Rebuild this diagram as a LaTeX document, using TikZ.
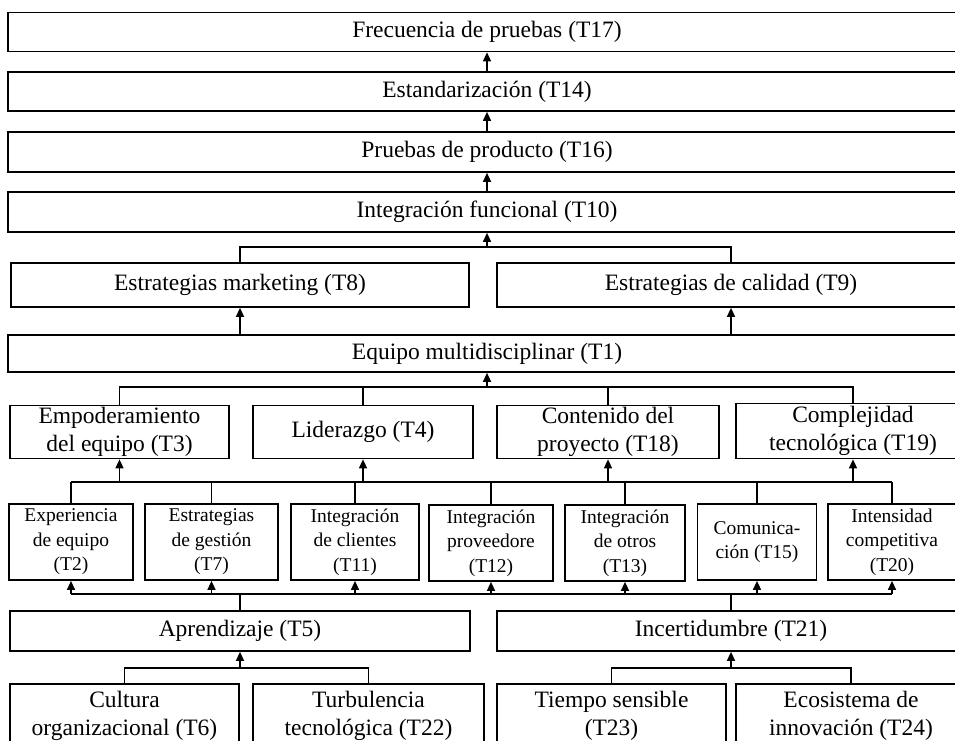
\documentclass[tikz,border=0pt]{standalone}
\usepackage{fontspec}
\setmainfont{Liberation Serif}
\usetikzlibrary{arrows.meta}
\newcommand{\letragrande}{\fontsize{23.5}{28.5}\selectfont}
\newcommand{\letrachica}{\fontsize{19.5}{24.5}\selectfont}

\begin{document}
\begin{tikzpicture}[x=1pt,y={(0pt,-1pt)},>={Triangle[length=9pt,width=8pt]},
    caja/.style={draw, line width=1.7pt, fill=white, inner sep=0pt, align=center, font=\letragrande},
    cajita/.style={caja, font=\letrachica},
    linea/.style={line width=1.4pt},
    barra/.style={line width=2.6pt}]
                \useasboundingbox (0,0) rectangle (955,740);

                % Cadena superior
                \node[caja, minimum width=958pt, minimum height=39pt] (t17) at (487,32) {Frecuencia de pruebas (T17)};
                \node[caja, minimum width=958pt, minimum height=39pt] (t14) at (487,91.5) {Estandarización (T14)};
                \node[caja, minimum width=958pt, minimum height=40pt] (t16) at (487,152) {Pruebas de producto (T16)};
                \node[caja, minimum width=958pt, minimum height=40pt] (t10) at (487,212) {Integración funcional (T10)};

                % Estrategias
                \node[caja, minimum width=458pt, minimum height=44pt] (t8) at (240,285) {Estrategias marketing (T8)};
                \node[caja, minimum width=468pt, minimum height=44pt] (t9) at (731,285) {Estrategias de calidad (T9)};
                \node[caja, minimum width=958pt, minimum height=37pt] (t1) at (487,353.5) {Equipo multidisciplinar (T1)};

                % Tercera fila
                \node[caja, minimum width=219pt, minimum height=53pt] (t3) at (119.5,432) {Empoderamiento\\del equipo (T3)};
                \node[caja, minimum width=220pt, minimum height=53pt] (t4) at (363,432) {Liderazgo (T4)};
                \node[caja, minimum width=222pt, minimum height=53pt] (t18) at (608,432) {Contenido del\\proyecto (T18)};
                \node[caja, minimum width=234pt, minimum height=55pt] (t19) at (853,431) {Complejidad\\tecnológica (T19)};

                % Cuarta fila (cajas chicas)
                \node[cajita, minimum width=124pt, minimum height=76pt] (t2) at (71,542) {Experiencia\\de equipo\\(T2)};
                \node[cajita, minimum width=133pt, minimum height=76pt] (t7) at (211.5,542) {Estrategias\\de gestión\\(T7)};
                \node[cajita, minimum width=128pt, minimum height=76pt] (t11) at (355,542) {Integración\\de clientes\\(T11)};
                \node[cajita, minimum width=124pt, minimum height=76pt] (t12) at (491,543) {Integración\\proveedore\\(T12)};
                \node[cajita, minimum width=120pt, minimum height=76pt] (t13) at (625,543) {Integración\\de otros\\(T13)};
                \node[cajita, minimum width=119pt, minimum height=76pt] (t15) at (757,542) {Comunica-\\ción (T15)};
                \node[cajita, minimum width=128pt, minimum height=76pt] (t20) at (892,542) {Intensidad\\competitiva\\(T20)};

                % Quinta fila
                \node[caja, minimum width=460pt, minimum height=40pt] (t5) at (240,631) {Aprendizaje (T5)};
                \node[caja, minimum width=468pt, minimum height=40pt] (t21) at (731,631) {Incertidumbre (T21)};

                % Fila inferior
                \node[caja, minimum width=229pt, minimum height=64pt] (t6) at (124.5,716) {Cultura\\organizacional (T6)};
                \node[caja, minimum width=231pt, minimum height=64pt] (t22) at (368.5,716) {Turbulencia\\tecnológica (T22)};
                \node[caja, minimum width=229pt, minimum height=64pt] (t23) at (611.5,716) {Tiempo sensible\\(T23)};
                \node[caja, minimum width=230pt, minimum height=64pt] (t24) at (851,716) {Ecosistema de\\innovación (T24)};

                % Puntos de unión
                \coordinate (u1) at (487,247);
                \coordinate (u2) at (487,387);
                \coordinate (u3) at (487,482);
                \coordinate (u4) at (487,594);
                \coordinate (u5) at (240,668);
                \coordinate (u6) at (731,668);

                % Flechas de la cadena superior
                \draw[linea,->] (t14.north) -- (t17.south);
                \draw[linea,->] (t16.north) -- (t14.south);
                \draw[linea,->] (t10.north) -- (t16.south);

                % T8 y T9 hacia T10, T1 hacia T8 y T9
                \draw[linea] (t8.north) |- (u1) -| (t9.north);
                \draw[linea,->] (u1) -- (t10.south);
                \draw[linea,->] (t8.south |- t1.north) -- (t8.south);
                \draw[linea,->] (t9.south |- t1.north) -- (t9.south);

                % Tercera fila hacia T1
                \draw[linea] (t3.north) |- (u2) -| (t19.north);
                \draw[linea] (t4.north) -- (t4.north |- u2);
                \draw[linea] (t18.north) -- (t18.north |- u2);
                \draw[linea,->] (u2) -- (t1.south);

                % Cuarta fila hacia tercera fila
                \draw[barra] (t2.north |- u3) -- (t20.north |- u3);
                \foreach \c in {t2,t7,t11,t12,t13,t15,t20}
                    \draw[linea] (\c.north) -- (\c.north |- u3);
                \foreach \c in {t3,t4,t18,t19}
                    \draw[linea,->] (\c.south |- u3) -- (\c.south);

                % T5 y T21 hacia la cuarta fila
                \draw[barra] (t2.south |- u4) -- (t20.south |- u4);
                \foreach \c in {t2,t7,t11,t12,t13,t15,t20}
                    \draw[linea,->] (\c.south |- u4) -- (\c.south);
                \draw[linea] (t5.north) -- (t5.north |- u4);
                \draw[linea] (t21.north) -- (t21.north |- u4);

                % Fila inferior hacia T5 y T21
                \draw[linea] (t6.north) |- (u5) -| (t22.north);
                \draw[linea,->] (u5) -- (t5.south);
                \draw[linea] (t23.north) |- (u6) -| (t24.north);
                \draw[linea,->] (u6) -- (t21.south);
            \end{tikzpicture}
\end{document}
